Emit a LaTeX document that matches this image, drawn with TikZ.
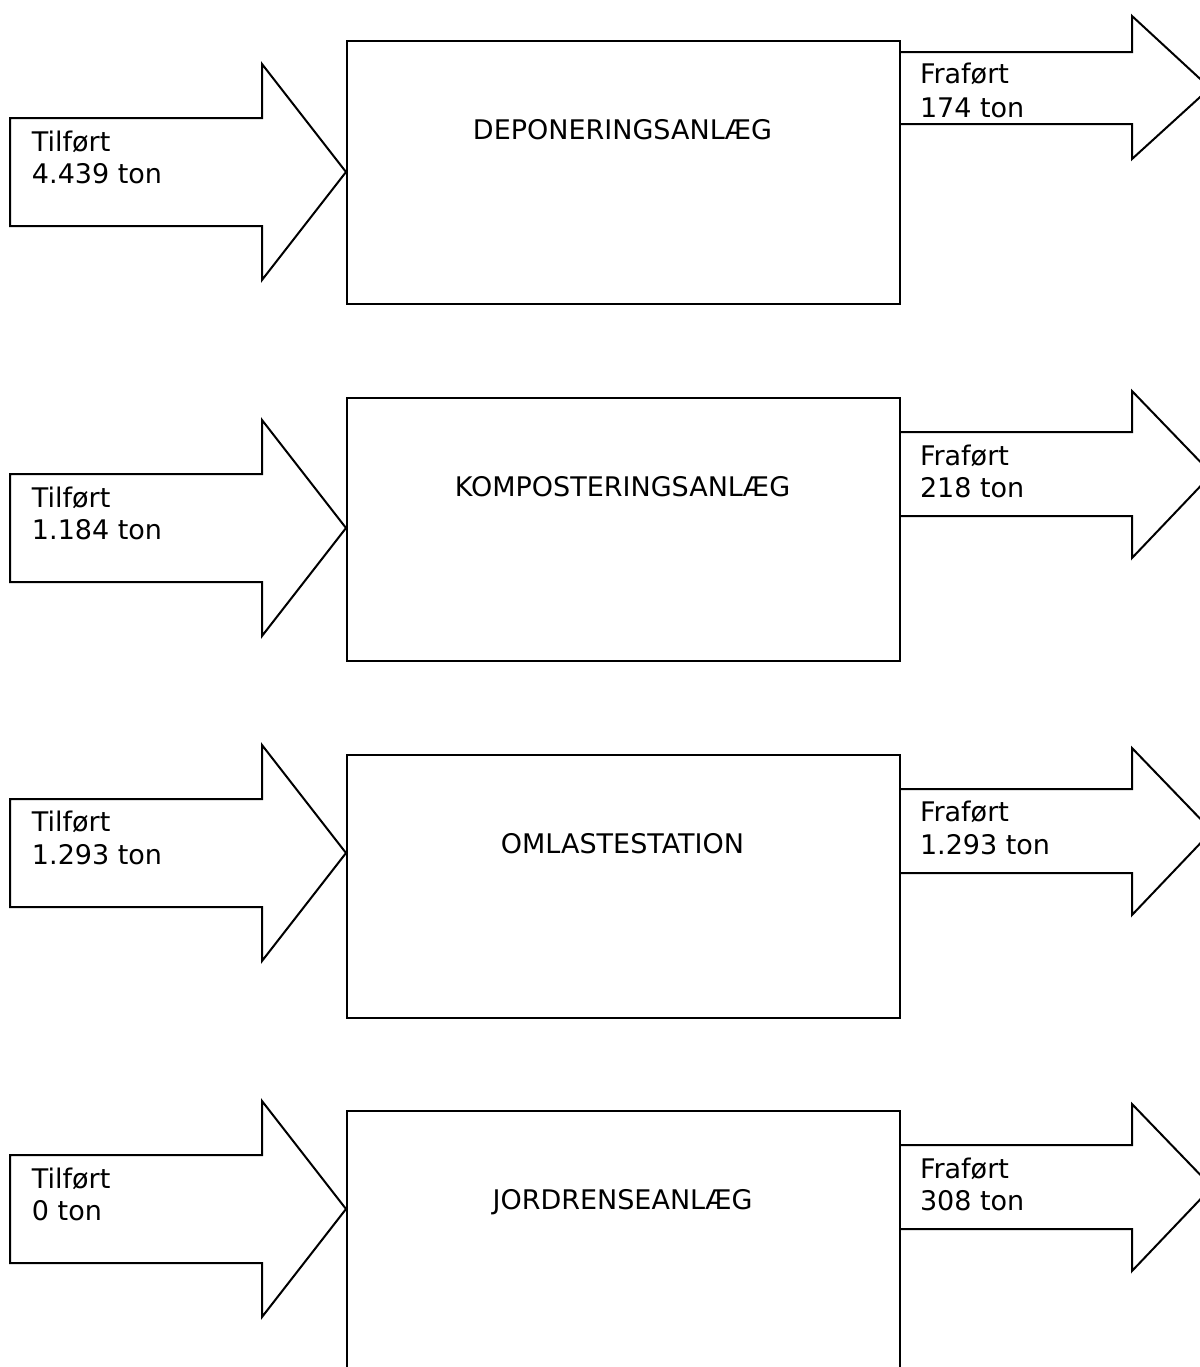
\documentclass[tikz,border=0pt]{standalone}
\usepackage{fontspec}
\setmainfont{DejaVu Sans}
\begin{document}
\begin{tikzpicture}[x=0.5pt,y=-0.5pt,line width=1pt,line join=miter,
  box/.style={draw,rectangle,inner sep=0pt,anchor=north west,minimum width=276.5pt,minimum height=131.5pt},
  txt/.style={inner sep=0pt,anchor=base west,font=\fontsize{13.5}{16}\selectfont},
  lbl/.style={inner sep=0pt,anchor=base,font=\fontsize{13.5}{16}\selectfont},
  flow/.style={draw,line width=1pt}]
\useasboundingbox (0,0) rectangle (1200,1367);
\clip (0,0) rectangle (1200,1367);

% boxes
\node[box] (b1) at (346,40) {};
\node[box] (b2) at (346,397) {};
\node[box] (b3) at (346,754) {};
\node[box] (b4) at (346,1110) {};

% box labels
\node[lbl] (l1) at (622.5,139) {DEPONERINGSANLÆG};
\node[lbl] (l2) at (622.5,496) {KOMPOSTERINGSANLÆG};
\node[lbl] (l3) at (622.5,853) {OMLASTESTATION};
\node[lbl] (l4) at (622.5,1209) {JORDRENSEANLÆG};

% incoming arrows (tip touches box west side)
\foreach \T in {118,474,799,1155}{
  \draw[flow] (10,\T) -- (262,\T) -- (262,\T-54) -- (346,\T+54)
     -- (262,\T+162) -- (262,\T+108) -- (10,\T+108) -- cycle;
}
% outgoing arrows (start at box east side)
\draw[flow] (899,52) -- (1132,52) -- (1132,16) -- (1210,88)
   -- (1132,159) -- (1132,124) -- (899,124);
\foreach \T in {432,789,1145}{
  \draw[flow] (899,\T) -- (1132,\T) -- (1132,\T-41) -- (1212,\T+42)
     -- (1132,\T+126) -- (1132,\T+84) -- (899,\T+84);
}

% incoming labels
\node[txt] (i1a) at (31,151) {Tilført};
\node[txt] (i1b) at (31,183) {4.439 ton};
\node[txt] (i2a) at (31,507) {Tilført};
\node[txt] (i2b) at (31,539) {1.184 ton};
\node[txt] (i3a) at (31,831) {Tilført};
\node[txt] (i3b) at (31,864) {1.293 ton};
\node[txt] (i4a) at (31,1188) {Tilført};
\node[txt] (i4b) at (31,1220) {0 ton};

% outgoing labels
\node[txt] (o1a) at (919,83) {Fraført};
\node[txt] (o1b) at (919,117) {174 ton};
\node[txt] (o2a) at (919,465) {Fraført};
\node[txt] (o2b) at (919,497) {218 ton};
\node[txt] (o3a) at (919,821) {Fraført};
\node[txt] (o3b) at (919,854) {1.293 ton};
\node[txt] (o4a) at (919,1178) {Fraført};
\node[txt] (o4b) at (919,1210) {308 ton};
\end{tikzpicture}
\end{document}
